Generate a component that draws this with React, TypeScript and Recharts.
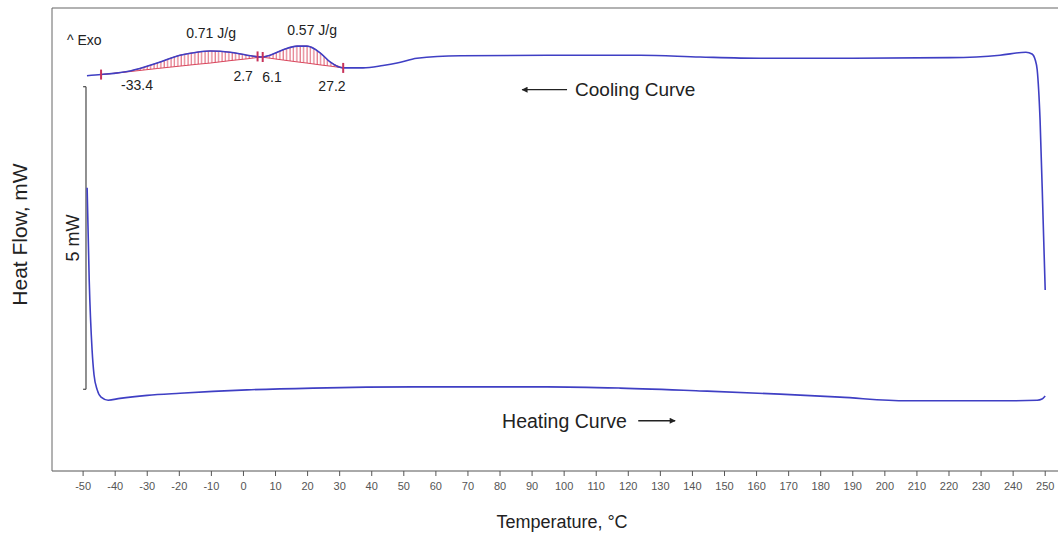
import React from 'react';
import {
  ComposedChart,
  Line,
  Area,
  Scatter,
  XAxis,
  YAxis,
  ReferenceLine,
} from 'recharts';

// temperature ticks, °C
const TEMP_TICKS = [
  -50, -40, -30, -20, -10, 0, 10, 20, 30, 40, 50, 60, 70, 80, 90, 100, 110, 120, 130, 140, 150,
  160, 170, 180, 190, 200, 210, 220, 230, 240, 250,
];

// heating run (°C -> mW)
const HEAT_T = [
  -48.75, -48.1, -47.2, -46.6, -45.6, -44.4, -42.2, -38.5, -30.0, -19.8, -9.5, 1.1, 21.7, 52.9,
  94.7, 117.4, 144.6, 167.3, 186.0, 206.9, 238.1, 247.5, 249.0, 250.0,
];
const HEAT_HF = [
  3.33, 1.81, 0.65, 0.24, -0.01, -0.13, -0.18, -0.15, -0.1, -0.065, -0.035, -0.01, 0.02, 0.04,
  0.04, 0.02, -0.03, -0.08, -0.13, -0.19, -0.19, -0.18, -0.16, -0.11,
];

// cooling run, recorded from 250 down to -50
const COOL_T = [
  250.0, 249.35, 248.4, 247.5, 246.9, 245.9, 244.0, 235.9, 220.3, 189.2, 161.1, 142.4, 123.7,
  95.6, 67.6, 54.1, 47.9, 43.5, 37.3, 31.1, 27.0, 23.9, 19.8, 16.7, 12.4, 8.3, 5.5, 1.1, -4.2,
  -10.4, -14.5, -19.8, -26.9, -35.3, -44.4, -48.8,
];
const COOL_HF = [
  1.64, 2.8, 4.45, 5.28, 5.44, 5.54, 5.57, 5.52, 5.48, 5.47, 5.47, 5.49, 5.52, 5.52, 5.51, 5.47,
  5.39, 5.35, 5.31, 5.31, 5.41, 5.56, 5.67, 5.67, 5.61, 5.52, 5.49, 5.52, 5.57, 5.59, 5.57, 5.52,
  5.39, 5.26, 5.2, 5.18,
];

// integrated exotherms: curve top and drawn baseline
const PEAK1_T = [-44.4, -35.3, -26.9, -19.8, -14.5, -10.4, -4.2, 1.1, 5.5];
const PEAK1_TOP = [5.2, 5.26, 5.39, 5.52, 5.57, 5.59, 5.57, 5.52, 5.49];
const PEAK1_BASE = [5.2, 5.25, 5.3, 5.34, 5.37, 5.39, 5.43, 5.46, 5.49];
const PEAK2_T = [5.5, 8.3, 12.4, 16.7, 19.8, 23.9, 27.0, 31.1];
const PEAK2_TOP = [5.49, 5.52, 5.61, 5.67, 5.67, 5.56, 5.41, 5.31];
const PEAK2_BASE = [5.49, 5.47, 5.44, 5.41, 5.39, 5.36, 5.34, 5.31];

// integration limit markers
const MARK_T = [-44.4, 4.4, 6.0, 31.1];
const MARK_HF = [5.2, 5.5, 5.49, 5.31];

// 5 mW scale bar
const SCALE_T = -49.1;
const SCALE_CAP_T = -50.0;
const SCALE_HF = [0, 5];

const LABELS = [
  { t: -55.0, v: 5.77, text: '^ Exo', size: 14, anchor: 'start', rotate: false },
  { t: -10.1, v: 5.89, text: '0.71 J/g', size: 14, anchor: 'middle', rotate: false },
  { t: 21.4, v: 5.94, text: '0.57 J/g', size: 14, anchor: 'middle', rotate: false },
  { t: -33.2, v: 5.03, text: '-33.4', size: 14, anchor: 'middle', rotate: false },
  { t: -0.1, v: 5.18, text: '2.7', size: 14, anchor: 'middle', rotate: false },
  { t: 8.9, v: 5.16, text: '6.1', size: 14, anchor: 'middle', rotate: false },
  { t: 27.6, v: 5.01, text: '27.2', size: 14, anchor: 'middle', rotate: false },
  { t: 103.4, v: 4.95, text: 'Cooling Curve', size: 19, anchor: 'start', rotate: false },
  { t: 80.65, v: -0.52, text: 'Heating Curve', size: 19.5, anchor: 'start', rotate: false },
  { t: -51.2, v: 2.5, text: '5 mW', size: 18, anchor: 'middle', rotate: true },
];

const COOL_ARROW_T = [100.9, 86.9];
const COOL_ARROW_HF = 4.95;
const HEAT_ARROW_T = [123.1, 134.6];
const HEAT_ARROW_HF = -0.52;

const Y_DOMAIN: [number, number] = [-1.35, 6.3];
const X_DOMAIN: [number, number] = [-59.7, 260.85];

const FONT = '"Liberation Sans", Arial, Helvetica, sans-serif';
const CURVE = '#3f3fc4';
const HATCH = '#d9465c';

const heatData = HEAT_T.map((t, i) => ({ t, hf: HEAT_HF[i] }));
const coolData = COOL_T.map((t, i) => ({ t, hf: COOL_HF[i] }));
const peak1 = PEAK1_T.map((t, i) => ({ t, range: [PEAK1_BASE[i], PEAK1_TOP[i]] }));
const peak2 = PEAK2_T.map((t, i) => ({ t, range: [PEAK2_BASE[i], PEAK2_TOP[i]] }));
const markers = MARK_T.map((t, i) => ({ t, hf: MARK_HF[i] }));
const labels = LABELS.map((l) => ({ ...l, hf: l.v }));
const coolArrow = COOL_ARROW_T.map((t) => ({ t, hf: COOL_ARROW_HF }));
const heatArrow = HEAT_ARROW_T.map((t) => ({ t, hf: HEAT_ARROW_HF }));

const MarkerTick = (props: any) => {
  const { cx, cy } = props;
  return <line x1={cx} x2={cx} y1={cy - 5} y2={cy + 5} stroke="#c8325a" strokeWidth={2} />;
};

const LabelText = (props: any) => {
  const { cx, cy, payload } = props;
  return (
    <text
      x={cx}
      y={cy}
      dy={payload.rotate ? 0 : '0.35em'}
      textAnchor={payload.anchor}
      fontSize={payload.size}
      fontFamily={FONT}
      fill="#222"
      transform={payload.rotate ? `rotate(-90, ${cx}, ${cy})` : undefined}
    >
      {payload.text}
    </text>
  );
};

export default function App() {
  return (
    <div
      style={{
        position: 'absolute',
        left: 0,
        top: 0,
        width: 1058,
        height: 537,
        overflow: 'hidden',
        background: '#fff',
      }}
    >
      <ComposedChart width={1080} height={537} margin={{ top: 7, right: 0, bottom: 0, left: 0 }}>
        <defs>
          <pattern id="hatch" width="3.4" height="8" patternUnits="userSpaceOnUse">
            <line x1="1" y1="0" x2="1" y2="8" stroke={HATCH} strokeWidth="0.9" />
          </pattern>
          <marker
            id="arrowHead"
            viewBox="0 0 10 10"
            refX="9"
            refY="5"
            markerWidth="9"
            markerHeight="6"
            markerUnits="userSpaceOnUse"
            orient="auto"
          >
            <path d="M0,0 L10,5 L0,10 z" fill="#222" />
          </marker>
        </defs>
        <XAxis
          dataKey="t"
          type="number"
          domain={X_DOMAIN}
          allowDataOverflow
          ticks={TEMP_TICKS}
          interval={0}
          height={66}
          tickSize={5}
          tickMargin={6}
          stroke="#555"
          tick={{ fontSize: 11, fill: '#555', fontFamily: FONT }}
          label={{
            content: ({ viewBox }: any) => (
              <text
                x={viewBox.x + 510}
                y={viewBox.y + 57}
                textAnchor="middle"
                fontSize={18}
                fontFamily={FONT}
                fill="#222"
              >
                Temperature, °C
              </text>
            ),
          }}
        />
        {/* frame top edge */}
        <XAxis
          xAxisId="top"
          orientation="top"
          type="number"
          domain={X_DOMAIN}
          allowDataOverflow
          height={1}
          tick={false}
          tickLine={false}
          stroke="#666"
          strokeWidth={1.2}
        />
        <YAxis
          type="number"
          domain={Y_DOMAIN}
          allowDataOverflow
          width={52}
          tick={false}
          tickLine={false}
          stroke="#666"
          label={{
            content: ({ viewBox }: any) => {
              const x = viewBox.x + 27;
              const y = viewBox.y + viewBox.height / 2 - 5;
              return (
                <text
                  x={x}
                  y={y}
                  textAnchor="middle"
                  fontSize={21}
                  fontFamily={FONT}
                  fill="#222"
                  transform={`rotate(-90, ${x}, ${y})`}
                >
                  Heat Flow, mW
                </text>
              );
            },
          }}
        />

        {/* scale bar */}
        <ReferenceLine
          segment={[
            { x: SCALE_T, y: SCALE_HF[0] },
            { x: SCALE_T, y: SCALE_HF[1] },
          ]}
          stroke="#555"
          strokeWidth={1.3}
        />
        <ReferenceLine
          segment={[
            { x: SCALE_CAP_T, y: SCALE_HF[0] },
            { x: SCALE_T, y: SCALE_HF[0] },
          ]}
          stroke="#555"
          strokeWidth={1.3}
        />
        <ReferenceLine
          segment={[
            { x: SCALE_CAP_T, y: SCALE_HF[1] },
            { x: SCALE_T, y: SCALE_HF[1] },
          ]}
          stroke="#555"
          strokeWidth={1.3}
        />

        <Area
          data={peak1}
          dataKey="range"
          type="monotone"
          fill="url(#hatch)"
          fillOpacity={1}
          stroke={HATCH}
          strokeWidth={1}
          isAnimationActive={false}
          activeDot={false}
        />
        <Area
          data={peak2}
          dataKey="range"
          type="monotone"
          fill="url(#hatch)"
          fillOpacity={1}
          stroke={HATCH}
          strokeWidth={1}
          isAnimationActive={false}
          activeDot={false}
        />

        <Line
          data={heatData}
          dataKey="hf"
          type="monotone"
          stroke={CURVE}
          strokeWidth={1.6}
          dot={false}
          activeDot={false}
          isAnimationActive={false}
        />
        <Line
          data={coolData}
          dataKey="hf"
          type="monotone"
          stroke={CURVE}
          strokeWidth={1.6}
          dot={false}
          activeDot={false}
          isAnimationActive={false}
        />

        <Line
          data={coolArrow}
          dataKey="hf"
          type="linear"
          stroke="#222"
          strokeWidth={1.3}
          dot={false}
          activeDot={false}
          markerEnd="url(#arrowHead)"
          isAnimationActive={false}
        />
        <Line
          data={heatArrow}
          dataKey="hf"
          type="linear"
          stroke="#222"
          strokeWidth={1.3}
          dot={false}
          activeDot={false}
          markerEnd="url(#arrowHead)"
          isAnimationActive={false}
        />

        <Scatter data={markers} dataKey="hf" shape={MarkerTick} isAnimationActive={false} />
        <Scatter data={labels} dataKey="hf" shape={LabelText} isAnimationActive={false} />
      </ComposedChart>
    </div>
  );
}
